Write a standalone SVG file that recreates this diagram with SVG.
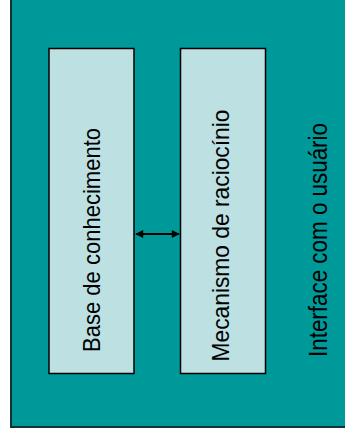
<svg xmlns="http://www.w3.org/2000/svg" width="345" height="438" viewBox="0 0 345 438">
  <style>
    .frame { fill: #009999; stroke: #113333; stroke-width: 2; }
    .box { fill: #bde0e3; stroke: #000; stroke-width: 1.5; }
    .label { font-family: "Liberation Sans", Arial, sans-serif; font-size: 24px; fill: #000; text-anchor: middle; }
    .link { stroke: #000; stroke-width: 2; fill: none; }
  </style>
  <defs>
    <marker id="head" viewBox="0 0 10 10" refX="9" refY="5" markerWidth="4.5" markerHeight="4" orient="auto-start-reverse">
      <path d="M0,0 L10,5 L0,10 z" fill="#000"/>
    </marker>
  </defs>
  <rect width="345" height="438" fill="#fff"/>

  <!-- outer frame: user interface -->
  <g id="interface">
    <rect class="frame" x="11" y="-5" width="345" height="432"/>
    <text class="label" transform="translate(327,240) rotate(-90)" textLength="234" lengthAdjust="spacingAndGlyphs" style="font-size:25px">Interface com o usuário</text>
  </g>

  <!-- knowledge base -->
  <g id="base">
    <rect class="box" x="49" y="48.5" width="85" height="325"/>
    <text class="label" transform="translate(100,240) rotate(-90)" textLength="224" lengthAdjust="spacingAndGlyphs">Base de conhecimento</text>
  </g>

  <!-- reasoning engine -->
  <g id="mecanismo">
    <rect class="box" x="180.5" y="48.5" width="85" height="325"/>
    <text class="label" transform="translate(229,235.5) rotate(-90)" textLength="252" lengthAdjust="spacingAndGlyphs">Mecanismo de raciocínio</text>
  </g>

  <g id="connectors">
    <line class="link" x1="136" y1="234" x2="179" y2="234" marker-start="url(#head)" marker-end="url(#head)"/>
  </g>
</svg>
